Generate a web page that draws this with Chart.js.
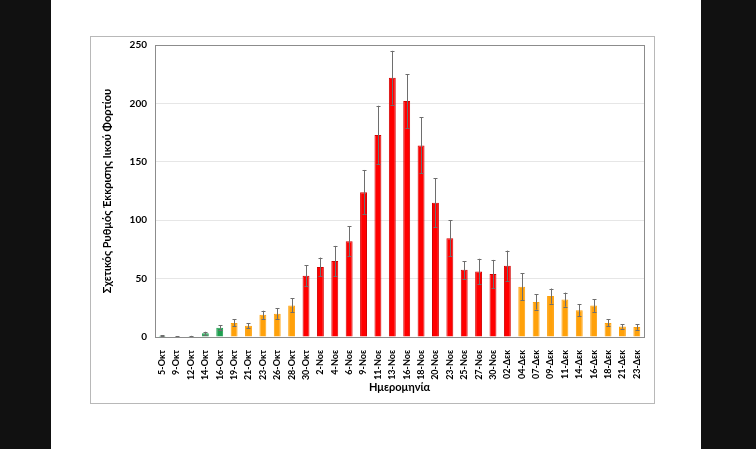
<!DOCTYPE html>
<html>
<head>
<meta charset="utf-8">
<script src="https://cdn.jsdelivr.net/npm/chart.js@4.4.1/dist/chart.umd.min.js"></script>
<style>
    html, body { margin: 0; padding: 0; background: #111; }
    #page { position: absolute; left: 51px; top: 0; width: 650px; height: 449px; background: #fff; }
    #frame { position: absolute; left: 90px; top: 36px; width: 563px; height: 366px; border: 1px solid #b8b8b8; background: #fff; }
    #viralChart { position: absolute; left: 0; top: -6px; display: block; }
</style>
</head>
<body>
<div id="page"></div>
<div id="frame"><canvas id="viralChart" width="563" height="372"></canvas></div>
<script>
const dates = ["5-Οκτ", "9-Οκτ", "12-Οκτ", "14-Οκτ", "16-Οκτ", "19-Οκτ", "21-Οκτ", "23-Οκτ", "26-Οκτ", "28-Οκτ",
    "30-Οκτ", "2-Νοε", "4-Νοε", "6-Νοε", "9-Νοε", "11-Νοε", "13-Νοε", "16-Νοε", "18-Νοε", "20-Νοε",
    "23-Νοε", "25-Νοε", "27-Νοε", "30-Νοε", "02-Δεκ", "04-Δεκ", "07-Δεκ", "09-Δεκ", "11-Δεκ", "14-Δεκ",
    "16-Δεκ", "18-Δεκ", "21-Δεκ", "23-Δεκ"];
const rates = [1, 0.5, 0.7, 3.2, 8, 12, 9.7, 19, 20, 27,
    52.5, 60, 65, 82, 124, 173, 222, 202, 164, 115,
    84.5, 57.5, 56, 54, 61, 43, 30, 35, 32, 23,
    27, 12, 9, 8.5];
const errors = [0.3, 0.2, 0.3, 1.3, 2, 3, 2.3, 3.5, 4.5, 6,
    9, 8, 13, 13, 19, 25, 23, 23, 24, 21,
    15.5, 7.5, 11, 12, 13, 11.5, 6.5, 6.5, 6, 5,
    5.5, 3, 1.8, 2.3];
const yTicks = [0, 50, 100, 150, 200, 250];

const GREEN = "#1f9e4f", ORANGE = "#ffa10a", RED = "#ff0000";
function barColor(i) {
    if (i < 5) return GREEN;
    if (i < 10) return ORANGE;
    if (i < 25) return RED;
    return ORANGE;
}
function barEdge(i) {
    return barColor(i) === RED ? "#d40000" : barColor(i);
}

const errorBars = {
    id: "errorBars",
    afterDatasetsDraw(chart) {
        const ctx = chart.ctx;
        const y = chart.scales.y;
        const meta = chart.getDatasetMeta(0);
        ctx.save();
        ctx.strokeStyle = "#6e6e6e";
        ctx.lineWidth = 1;
        meta.data.forEach((bar, i) => {
            const x = Math.round(bar.x) + 0.5;
            const top = y.getPixelForValue(rates[i] + errors[i]);
            const bot = y.getPixelForValue(Math.max(0, rates[i] - errors[i]));
            ctx.beginPath();
            ctx.moveTo(x, bot);
            ctx.lineTo(x, top);
            ctx.moveTo(x - 2, Math.round(top) + 0.5);
            ctx.lineTo(x + 2, Math.round(top) + 0.5);
            ctx.moveTo(x - 2, Math.round(bot) + 0.5);
            ctx.lineTo(x + 2, Math.round(bot) + 0.5);
            ctx.stroke();
        });
        ctx.restore();
    }
};

const plotBorder = {
    id: "plotBorder",
    afterDraw(chart) {
        const a = chart.chartArea;
        const ctx = chart.ctx;
        ctx.save();
        ctx.strokeStyle = "#8c8c8c";
        ctx.lineWidth = 1;
        ctx.strokeRect(Math.round(a.left) + 0.5, Math.round(a.top) + 0.5,
            Math.round(a.right - a.left), Math.round(a.bottom - a.top));
        ctx.restore();
    }
};

const ctx = document.getElementById("viralChart").getContext("2d");
new Chart(ctx, {
    type: "bar",
    data: {
        labels: dates,
        datasets: [{
            data: rates,
            backgroundColor: c => barColor(c.dataIndex),
            borderColor: c => barEdge(c.dataIndex),
            borderWidth: 1,
            barPercentage: 0.48,
            categoryPercentage: 1
        }]
    },
    options: {
        responsive: false,
        animation: false,
        layout: { padding: { top: 2, right: 10, left: 0, bottom: 9 } },
        plugins: { legend: { display: false }, tooltip: { enabled: false } },
        scales: {
            x: {
                afterFit: axis => { axis.height = 57; },
                grid: { display: false },
                border: { display: false },
                ticks: {
                    color: "#000",
                    font: { family: "Lato", size: 9, weight: "bold" },
                    minRotation: 90,
                    maxRotation: 90,
                    autoSkip: false,
                    padding: 5
                },
                title: {
                    display: true,
                    text: "Ημερομηνία",
                    color: "#000",
                    font: { family: "Lato", size: 11, weight: "bold" },
                    padding: { top: 1, bottom: 0 }
                }
            },
            y: {
                min: 0,
                max: 250,
                afterBuildTicks: axis => { axis.ticks = yTicks.map(v => ({ value: v })); },
                afterFit: axis => { axis.width = 64; },
                grid: { color: "#e6e6e6", drawTicks: false },
                border: { display: false },
                ticks: {
                    color: "#000",
                    font: { family: "Lato", size: 10, weight: "bold" },
                    padding: 8
                },
                title: {
                    display: true,
                    text: "Σχετικός Ρυθμός Έκκρισης Ιικού Φορτίου",
                    color: "#000",
                    font: { family: "Lato", size: 11, weight: "bold" },
                    padding: { top: 10, bottom: 0 }
                }
            }
        }
    },
    plugins: [errorBars, plotBorder]
});
</script>
</body>
</html>
